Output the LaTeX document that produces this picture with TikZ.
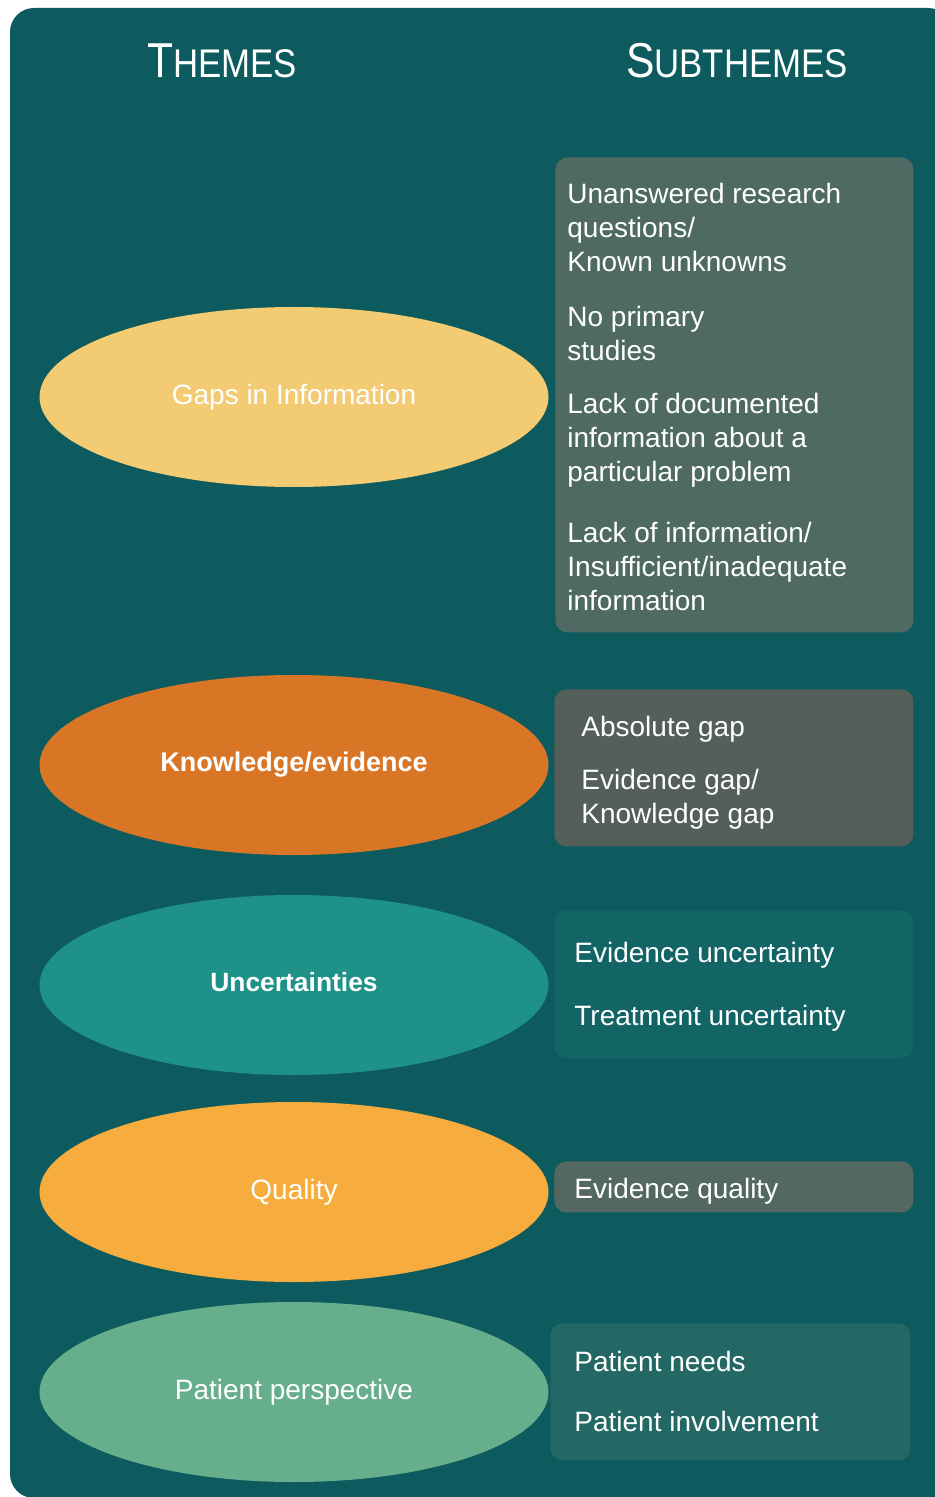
\documentclass[tikz,border=0pt]{standalone}
\usepackage{fontspec}
\setmainfont{Liberation Sans}
\usepackage{graphicx}
\usetikzlibrary{shapes.geometric}

\definecolor{panelteal}{RGB}{13,91,94}
\definecolor{gapsyellow}{RGB}{242,203,114}
\definecolor{knoworange}{RGB}{217,118,38}
\definecolor{uncteal}{RGB}{30,145,136}
\definecolor{qualorange}{RGB}{247,172,62}
\definecolor{patgreen}{RGB}{103,174,140}
\definecolor{boxgaps}{RGB}{79,106,99}
\definecolor{boxknow}{RGB}{83,95,88}
\definecolor{boxunc}{RGB}{19,100,101}
\definecolor{boxqual}{RGB}{83,104,96}
\definecolor{boxpat}{RGB}{35,104,101}

\begin{document}
\begin{tikzpicture}[x=0.5pt,y=-0.5pt,
    theme/.style={ellipse, minimum width=254.5pt, minimum height=90pt, inner sep=0pt,
        text=white, font=\fontsize{14}{17}\selectfont},
    subbox/.style={rounded corners=6pt, inner sep=0pt, anchor=north west},
    sub/.style={anchor=west, align=left, inner sep=0pt, text=white,
        font=\fontsize{14}{17}\selectfont},
    head/.style={text=white, inner sep=0pt}]

        \useasboundingbox (0,0) rectangle (935,1497);
        \fill[white] (0,0) rectangle (935,1497);

        % background panel
        \fill[panelteal, rounded corners=12pt] (10,8) rectangle (952,1498);

        % headings
        \node[head] (themes) at (222,61) {\scalebox{0.87}[1]{{\fontsize{24.5}{24.5}\selectfont T}{\fontsize{20}{20}\selectfont HEMES}}};
        \node[head] (subthemes) at (737,61) {\scalebox{0.87}[1]{{\fontsize{24.5}{24.5}\selectfont S}{\fontsize{20}{20}\selectfont UBTHEMES}}};

        % themes
        \node[theme, fill=gapsyellow] (gaps) at (294,397) {Gaps in Information};
        \node[theme, fill=knoworange, font=\fontsize{13.5}{17}\selectfont\bfseries] (know) at (294,765) {Knowledge/evidence};
        \node[theme, fill=uncteal, font=\fontsize{13.2}{17}\selectfont\bfseries] (unc) at (294,985) {\raisebox{3pt}{Uncertainties}};
        \node[theme, fill=qualorange] (qual) at (294,1192) {\raisebox{1.5pt}{Quality}};
        \node[theme, fill=patgreen] (pat) at (294,1392) {Patient perspective};

        % subtheme boxes
        \node[subbox, fill=boxgaps, minimum width=179pt, minimum height=237.5pt] (gapsbox) at (555,157) {};
        \node[subbox, fill=boxknow, minimum width=179.5pt, minimum height=78.5pt] (knowbox) at (554,689) {};
        \node[subbox, fill=boxunc, minimum width=179.5pt, minimum height=74pt] (uncbox) at (554,910) {};
        \node[subbox, fill=boxqual, minimum width=179.5pt, minimum height=25.5pt] (qualbox) at (554,1161) {};
        \node[subbox, fill=boxpat, minimum width=180pt, minimum height=68.5pt] (patbox) at (550,1323) {};

        % subthemes
        \node[sub] (unanswered) at (567,227) {Unanswered research\\questions/\\Known unknowns};
        \node[sub] (noprimary) at (567,333) {No primary\\studies};
        \node[sub] (lackdoc) at (567,440) {Lack of documented\\information about a\\particular problem};
        \node[sub] (lackinfo) at (567,566) {Lack of information/\\Insufficient/inadequate\\information};

        \node[sub] (absgap) at (581,729) {Absolute gap};
        \node[sub] (evgap) at (581,799) {Evidence gap/\\Knowledge gap};

        \node[sub] (evunc) at (574,955) {Evidence uncertainty};
        \node[sub] (trunc) at (574,1018) {Treatment uncertainty};

        \node[sub] (evqual) at (574,1191) {Evidence quality};

        \node[sub] (patneeds) at (574,1361) {Patient needs};
        \node[sub] (patinv) at (574,1421) {Patient involvement};

\end{tikzpicture}
\end{document}
